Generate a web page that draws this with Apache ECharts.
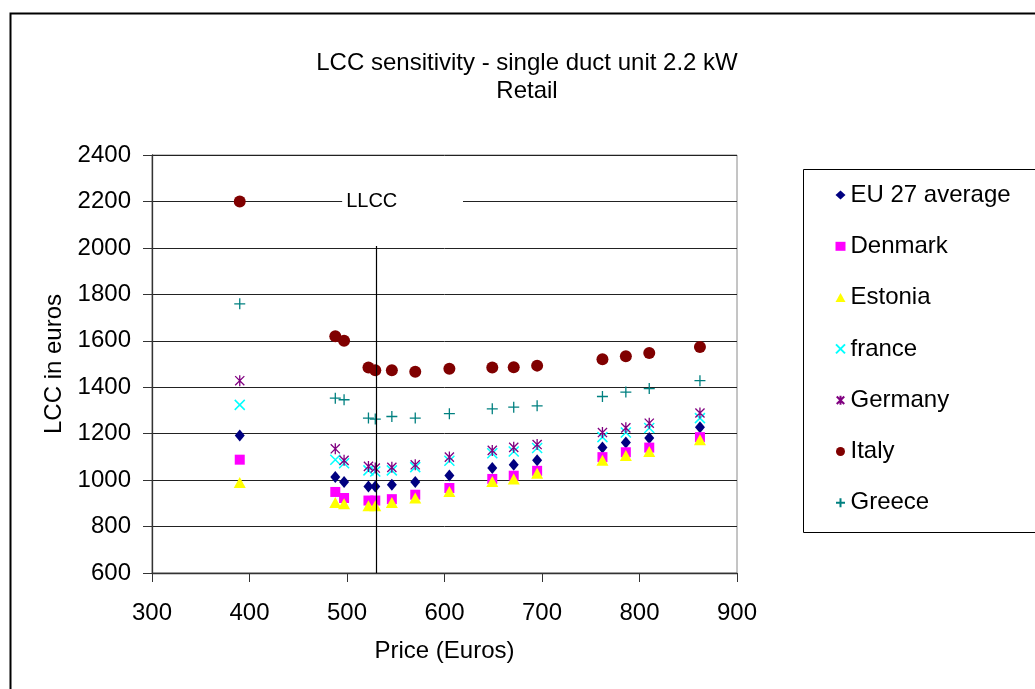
<!DOCTYPE html>
<html>
<head>
<meta charset="utf-8">
<script src="https://cdn.jsdelivr.net/npm/echarts@6/dist/echarts.min.js"></script>
<style>
html,body{margin:0;padding:0;background:#fff;}
#chart{width:1035px;height:689px;}
</style>
</head>
<body>
<div id="chart"></div>
<script>
// ---- data ----
const prices  = [390, 488, 497, 522, 529, 546, 570, 605, 649, 671, 695, 762, 786, 810, 862];
const eu27    = [1192, 1013, 992, 973, 973, 980, 992, 1020, 1052, 1066, 1086, 1140, 1162, 1181, 1228];
const denmark = [1088, 949, 923, 912, 912, 918, 937, 966, 1005, 1019, 1040, 1099, 1120, 1140, 1185];
const estonia = [990, 904, 898, 890, 890, 904, 923, 951, 994, 1005, 1030, 1085, 1106, 1123, 1174];
const france  = [1324, 1088, 1073, 1042, 1037, 1042, 1056, 1083, 1116, 1123, 1138, 1185, 1205, 1224, 1267];
const germany = [1428, 1135, 1085, 1059, 1052, 1055, 1066, 1099, 1128, 1141, 1153, 1205, 1225, 1245, 1289];
const italy   = [2200, 1620, 1600, 1485, 1473, 1473, 1467, 1480, 1485, 1486, 1493, 1520, 1533, 1547, 1573];
const greece  = [1759, 1353, 1346, 1267, 1263, 1274, 1267, 1286, 1307, 1314, 1320, 1360, 1379, 1394, 1428];
const seriesNames = ['EU 27 average', 'Denmark', 'Estonia', 'france', 'Germany', 'Italy', 'Greece'];
const xTicks = [300, 400, 500, 600, 700, 800, 900];
const yTicks = [600, 800, 1000, 1200, 1400, 1600, 1800, 2000, 2200, 2400];
const llccPrice = 530;     // vertical LLCC line
const llccTop = 2008;
const llccLabel = 'LLCC';
const llccLabelY = 2200;
const llccLabelFrom = 494, llccLabelTo = 620;

const FONT = "'Liberation Sans', Arial, sans-serif";
const chart = echarts.init(document.getElementById('chart'), null, {renderer: 'canvas'});

const pairs = vals => prices.map((p, i) => [p, vals[i]]);

const styles = [
  {data: eu27,    symbol: 'diamond', size: [10, 12], color: '#000080', leg: [8, 9]},
  {data: denmark, symbol: 'rect',    size: 10, color: '#FF00FF', leg: [8, 8]},
  {data: estonia, symbol: 'triangle',size: [12, 11], color: '#FFFF00', leg: [9, 8]},
  {data: france,  symbol: 'path://M0,0L10,10M10,0L0,10', size: 10, color: '#00FFFF', stroke: 1.5, leg: [8, 8]},
  {data: germany, symbol: 'path://M0,0L10,10M10,0L0,10M5,-1L5,11', size: 11, color: '#800080', stroke: 1.3, leg: [8, 9]},
  {data: italy,   symbol: 'circle',  size: 12, color: '#800000', leg: [9, 9]},
  {data: greece,  symbol: 'path://M5,0L5,10M0,5L10,5', size: 11, color: '#008080', stroke: 1.3, leg: [9, 9]}
];

const series = styles.map((s, k) => {
  const o = {
    name: seriesNames[k],
    type: 'scatter',
    data: pairs(s.data),
    symbol: s.symbol,
    symbolSize: s.size,
    symbolKeepAspect: true,
    itemStyle: s.stroke ? {color: s.color, borderColor: s.color, borderWidth: s.stroke, opacity: 1}
                        : {color: s.color, opacity: 1},
    emphasis: {disabled: true},
    animation: false
  };
  if (k === 0) {
    o.markLine = {
      silent: true, symbol: 'none', animation: false,
      lineStyle: {color: '#000', width: 1.2, type: 'solid'},
      label: {show: false},
      data: [[{coord: [llccPrice, llccTop]}, {coord: [llccPrice, 600]}]]
    };
  }
  return o;
});

chart.setOption({
  backgroundColor: '#fff',
  animation: false,
  textStyle: {fontFamily: FONT},
  title: {
    text: 'LCC sensitivity - single duct unit 2.2 kW\nRetail',
    left: 522, top: 44, textAlign: 'center',
    textStyle: {fontFamily: FONT, fontSize: 24, fontWeight: 'normal', color: '#000', lineHeight: 28}
  },
  grid: {left: 152, top: 155, width: 585, height: 418, show: true, borderColor: '#8a8a8a', borderWidth: 1, backgroundColor: '#fff'},
  legend: {
    orient: 'vertical', left: 830, top: 178,
    itemWidth: 10, itemHeight: 9, itemGap: 27.3,
    textStyle: {fontFamily: FONT, fontSize: 24, color: '#000', lineHeight: 24},
    data: seriesNames, selectedMode: false
  },
  xAxis: {
    type: 'value', min: xTicks[0], max: xTicks[xTicks.length - 1], interval: 100,
    name: 'Price (Euros)', nameLocation: 'middle', nameGap: 66,
    nameTextStyle: {fontFamily: FONT, fontSize: 24, color: '#000'},
    axisLine: {show: true, onZero: false, lineStyle: {color: '#333', width: 1.3}},
    axisTick: {show: true, inside: false, length: 9, lineStyle: {color: '#333'}},
    axisLabel: {fontFamily: FONT, fontSize: 24, color: '#000', margin: 28, formatter: v => String(v)},
    splitLine: {show: false}
  },
  yAxis: {
    type: 'value', min: yTicks[0], max: yTicks[yTicks.length - 1], interval: 200,
    name: 'LCC in euros', nameLocation: 'middle', nameGap: 83, nameRotate: 90,
    nameTextStyle: {fontFamily: FONT, fontSize: 24, color: '#000'},
    axisLine: {show: true, onZero: false, lineStyle: {color: '#333', width: 1.3}},
    axisTick: {show: true, inside: false, length: 9, lineStyle: {color: '#333'}},
    axisLabel: {fontFamily: FONT, fontSize: 24, color: '#000', margin: 21, formatter: v => String(v)},
    splitLine: {show: true, lineStyle: {color: '#222', width: 1}}
  },
  series: series
});

function placeGraphics() {
  const a = chart.convertToPixel({gridIndex: 0}, [llccLabelFrom, llccLabelY]);
  const b = chart.convertToPixel({gridIndex: 0}, [llccLabelTo, llccLabelY]);
  chart.setOption({
    graphic: [
      {type: 'rect', left: 8, top: 11, shape: {width: 1100, height: 800},
       style: {fill: 'none', stroke: '#000', lineWidth: 2}, silent: true, z: 100},
      {type: 'rect', left: 801, top: 167, shape: {width: 300, height: 363},
       style: {fill: 'none', stroke: '#000', lineWidth: 1}, silent: true, z: 100},
      {type: 'rect', shape: {x: a[0] + 1, y: a[1] - 12, width: b[0] - a[0] - 2, height: 24},
       style: {fill: '#fff'}, silent: true, z: 50},
      {type: 'text', x: a[0] + 5, y: a[1], silent: true, z: 51,
       style: {text: llccLabel, font: '20px ' + FONT, fill: '#000', verticalAlign: 'middle', align: 'left'}}
    ]
  });
}
placeGraphics();
</script>
</body>
</html>
